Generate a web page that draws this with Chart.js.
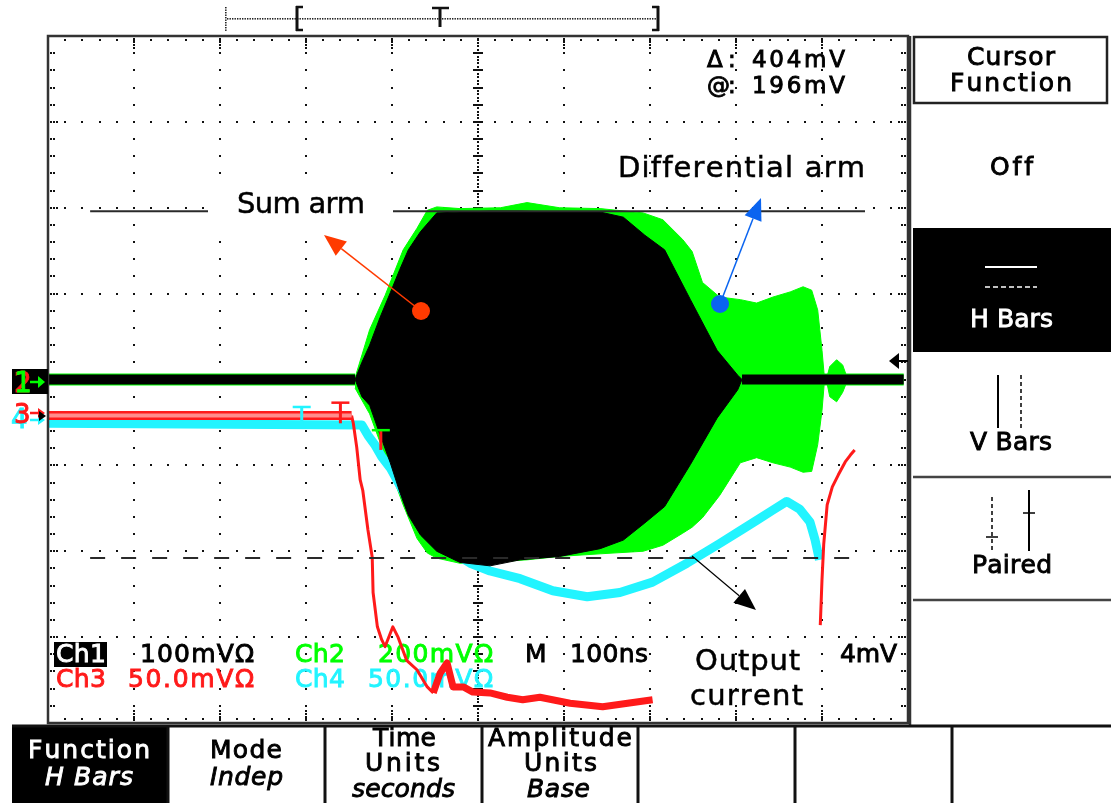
<!DOCTYPE html>
<html lang="en">
<head>
  <meta charset="UTF-8" />
  <title>Scope capture - sum and differential arm</title>
  <script src="https://cdn.jsdelivr.net/npm/chart.js"></script>
  <style>
    html, body { margin: 0; padding: 0; background: #fff; }
    #wrap { width: 1111px; height: 803px; position: relative; }
  </style>
</head>
<body>
  <div id="wrap"><canvas id="scope"></canvas></div>

  <script>
    // time in ns from the left edge of the screen (100 ns/div), amplitude in screen divisions
    const ch1Scale = 100;             // mV/div, cursors are on Ch1
    const cursorAt = 196;             // mV
    const cursorDelta = 404;          // mV
    const cursorSpan = [49, 950];

    // Ch1 (sum arm), black
    const ch1BaseLeft = [0, 357];
    const ch1BaseRight = [807, 995];
    const blackT  = [357, 365, 374, 386, 398, 409, 419, 433, 452, 479, 514, 549, 595, 642, 669, 694, 717, 747, 778, 802, 807];
    const blackHi = [0, 0.20, 0.40, 0.72, 1.01, 1.28, 1.51, 1.72, 1.94, 1.95, 1.96, 1.96, 1.95, 1.95, 1.89, 1.68, 1.51, 0.93, 0.34, 0.05, 0];
    const blackLo = [0, -0.20, -0.30, -0.64, -0.97, -1.31, -1.58, -1.81, -2.00, -2.13, -2.17, -2.10, -2.06, -1.97, -1.87, -1.67, -1.48, -0.99, -0.45, -0.12, 0];

    // Ch2 (differential arm), green
    const greenT  = [357, 374, 392, 413, 429, 441, 452, 479, 526, 557, 595, 642, 692, 715, 738, 749, 761, 781, 805, 824, 843, 863, 878, 888, 895, 900, 903];
    const greenHi = [0.02, 0.58, 0.98, 1.51, 1.76, 1.97, 2.01, 1.99, 2.00, 2.06, 2.00, 1.99, 1.94, 1.86, 1.63, 1.49, 1.13, 0.96, 0.93, 0.89, 0.96, 1.02, 1.08, 1.04, 0.81, 0.34, 0];
    const greenLo = [-0.10, -0.40, -0.89, -1.46, -1.85, -2.02, -2.08, -2.14, -2.12, -2.10, -2.06, -2.03, -2.00, -1.93, -1.79, -1.72, -1.61, -1.35, -0.97, -0.91, -0.97, -1.02, -1.08, -1.07, -0.76, -0.36, 0];
    const bumpT  = [905, 909, 917, 924, 930];
    const bumpHi = [0, 0.15, 0.23, 0.17, 0];
    const bumpLo = [0, -0.20, -0.26, -0.15, 0];

    // Ch3, red
    const redBaseT = [0, 353];
    const redBaseV = [-0.42, -0.42];
    const redDropT = [353, 355, 359, 363, 366, 372, 377, 378, 383, 388, 392, 401, 407, 417, 429, 441, 448];
    const redDropV = [-0.42, -0.51, -0.79, -1.17, -1.29, -1.75, -2.07, -2.48, -2.88, -3.03, -3.11, -2.88, -3.00, -3.27, -3.38, -3.58, -3.65];
    const redTailT = [448, 456, 464, 471, 483, 494, 514, 534, 552, 572, 607, 645, 703];
    const redTailV = [-3.65, -3.42, -3.30, -3.58, -3.58, -3.64, -3.65, -3.70, -3.73, -3.70, -3.77, -3.81, -3.73];
    const red2T = [898, 900, 902, 906, 912, 919, 927, 933, 938];
    const red2V = [-2.86, -2.33, -1.92, -1.46, -1.25, -1.11, -0.96, -0.88, -0.82];

    // Ch4 (output current), cyan
    const cyanT = [0, 365, 372, 380, 388, 398, 421, 444, 467, 491, 514, 549, 587, 627, 665, 703, 743, 781, 805, 824, 843, 859, 874, 886, 892, 897];
    const cyanV = [-0.51, -0.53, -0.65, -0.76, -0.90, -1.03, -1.45, -1.75, -1.99, -2.14, -2.23, -2.32, -2.46, -2.53, -2.48, -2.36, -2.14, -1.91, -1.76, -1.64, -1.52, -1.42, -1.51, -1.66, -1.87, -2.10];

    // trigger markers: [t, top, bottom]
    const trigCyan = [295, -0.32, -0.53];
    const trigRed = [340, -0.27, -0.51];
    const trigGreen = [387, -0.59, -0.82];

    const F = '"DejaVu Sans", sans-serif';
    const GREEN = '#00ff00', CYAN = '#22f4ff', RED = '#ff1a1a';

    const pts = (ts, vs) => ts.map((t, i) => ({ x: t, y: vs[i] }));
    const flat = (ts, v) => ts.map(t => ({ x: t, y: v }));

    function line(data, color, width, order, extra) {
      return Object.assign({
        data, borderColor: color, backgroundColor: color, borderWidth: width,
        pointRadius: 0, fill: false, tension: 0, order,
        borderCapStyle: 'butt', borderJoinStyle: 'round'
      }, extra || {});
    }

    const hiDiv = cursorAt / ch1Scale;
    const loDiv = (cursorAt - cursorDelta) / ch1Scale;

    const datasets = [
      line(flat(ch1BaseLeft, 0), GREEN, 12, 20),
      line(flat(ch1BaseRight, 0), GREEN, 12, 20),
      line(pts(greenT, greenHi), GREEN, 1, 19),
      line(pts(greenT, greenLo), GREEN, 1, 19, { fill: '-1' }),
      line(pts(bumpT, bumpHi), GREEN, 1, 19),
      line(pts(bumpT, bumpLo), GREEN, 1, 19, { fill: '-1' }),
      line(pts(cyanT, cyanV), CYAN, 9, 15),
      line(pts(redBaseT, redBaseV), RED, 9, 12),
      line(pts(redBaseT, redBaseV), '#ff8c8c', 4, 11),
      line(pts(redDropT, redDropV), RED, 3, 12),
      line(pts(redTailT, redTailV), RED, 7, 12),
      line(pts(red2T, red2V), RED, 3, 12),
      line(flat(ch1BaseLeft, 0), '#000', 10, 8),
      line(flat(ch1BaseRight, 0), '#000', 10, 8),
      line(pts(blackT, blackHi), '#000', 1, 7),
      line(pts(blackT, blackLo), '#000', 1, 7, { fill: '-1' }),
      line(flat(cursorSpan, hiDiv), '#2a2a2a', 2, 1),
      line(flat(cursorSpan, loDiv), '#2a2a2a', 2, 1, { borderDash: [15, 16] })
    ];

    // text spread over [x0, x1]; heavy adds a thin outline to thicken the strokes
    function fit(ctx, s, x0, x1, yb, size, color, style, heavy) {
      ctx.font = (style || '') + ' ' + size + 'px ' + F;
      ctx.fillStyle = color;
      ctx.strokeStyle = color;
      ctx.lineWidth = heavy === undefined ? 0.9 : heavy;
      ctx.textAlign = 'left';
      ctx.textBaseline = 'alphabetic';
      const chars = [...s];
      const ws = chars.map(c => ctx.measureText(c).width);
      const tot = ws.reduce((a, b) => a + b, 0);
      const gap = chars.length > 1 ? (x1 - x0 - tot) / (chars.length - 1) : 0;
      let x = x0;
      chars.forEach((c, i) => {
        ctx.fillText(c, x, yb);
        if (ctx.lineWidth > 0.05) ctx.strokeText(c, x, yb);
        x += ws[i] + gap;
      });
    }

    function seg(ctx, x0, y0, x1, y1, color, w, dash) {
      ctx.save();
      ctx.strokeStyle = color; ctx.lineWidth = w;
      ctx.setLineDash(dash || []);
      ctx.beginPath(); ctx.moveTo(x0, y0); ctx.lineTo(x1, y1); ctx.stroke();
      ctx.restore();
    }

    function arrow(ctx, x0, y0, x1, y1, color, w, len, half) {
      const a = Math.atan2(y1 - y0, x1 - x0);
      const bx = x1 - len * Math.cos(a), by = y1 - len * Math.sin(a);
      seg(ctx, x0, y0, bx, by, color, w);
      ctx.fillStyle = color;
      ctx.beginPath();
      ctx.moveTo(x1, y1);
      ctx.lineTo(bx + half * Math.sin(a), by - half * Math.cos(a));
      ctx.lineTo(bx - half * Math.sin(a), by + half * Math.cos(a));
      ctx.closePath(); ctx.fill();
    }

    const scopeDecor = {
      id: 'scopeDecor',
      beforeDraw(chart) {
        const ctx = chart.ctx;
        ctx.save();
        ctx.fillStyle = '#fff';
        ctx.fillRect(0, 0, chart.width, chart.height);
        ctx.restore();
      },
      beforeDatasetsDraw(chart) {
        const ctx = chart.ctx, sx = chart.scales.x, sy = chart.scales.y, a = chart.chartArea;
        const X = t => sx.getPixelForValue(t), Y = v => sy.getPixelForValue(v);
        const dot = (x, y) => ctx.fillRect(Math.round(x) - 1, Math.round(y) - 1, 2, 2);
        ctx.save();
        ctx.fillStyle = '#111';
        // graticule
        for (let i = 1; i < 10; i++) {
          const x = X(i * 100);
          if (i === 5) {
            for (let k = 0; k <= 200; k++) dot(x, Y(-4 + k * 0.04));
            for (let k = 0; k <= 40; k++) ctx.fillRect(x - 5, Math.round(Y(-4 + k * 0.2)) - 1, 10, 2);
          } else {
            for (let k = 0; k <= 40; k++) dot(x, Y(-4 + k * 0.2));
            for (let k = 0; k < 4; k++) { dot(x, a.top + 3 + k * 3); dot(x, a.bottom - 3 - k * 3); }
          }
        }
        for (let j = -3; j <= 3; j++) {
          const y = Y(j);
          if (j === 0) {
            for (let k = 0; k <= 250; k++) dot(X(k * 4), y);
            for (let k = 0; k <= 50; k++) ctx.fillRect(Math.round(X(k * 20)) - 1, y - 5, 2, 10);
          } else {
            for (let k = 0; k <= 50; k++) dot(X(k * 20), y);
            for (let k = 0; k < 3; k++) { dot(a.left + 3 + k * 3, y); dot(a.right - 3 - k * 3, y); }
          }
        }
        // edge ticks
        for (let k = 0; k <= 50; k++) { dot(X(k * 20), a.top + 4); dot(X(k * 20), a.bottom - 4); }
        for (let k = 0; k <= 40; k++) {
          const y = Y(-4 + k * 0.2);
          dot(a.left + 3, y); dot(a.left + 6, y); dot(a.right - 3, y); dot(a.right - 6, y);
        }
        ctx.restore();

        // channel readouts (drawn under the traces)
        ctx.save();
        ctx.fillStyle = '#000';
        ctx.fillRect(54, 642, 53, 25);
        fit(ctx, 'Ch1', 56, 106, 662, 25, '#fff');
        fit(ctx, '100mV\u03a9', 140, 254, 662, 25, '#000');
        fit(ctx, 'Ch2', 295, 345, 662, 25, GREEN);
        fit(ctx, '200mV\u03a9', 378, 493, 662, 25, GREEN);
        fit(ctx, 'M', 525, 545, 662, 25, '#000');
        fit(ctx, '100ns', 570, 648, 662, 25, '#000');
        fit(ctx, '4mV', 840, 897, 662, 25, '#000');
        fit(ctx, 'Ch3', 56, 106, 687, 25, RED);
        fit(ctx, '50.0mV\u03a9', 128, 254, 687, 25, RED);
        fit(ctx, 'Ch4', 295, 345, 687, 25, CYAN);
        fit(ctx, '50.0mV\u03a9', 368, 493, 687, 25, CYAN);
        ctx.restore();
      },
      afterDatasetsDraw(chart) {
        const ctx = chart.ctx, sx = chart.scales.x, sy = chart.scales.y, a = chart.chartArea;
        const X = t => sx.getPixelForValue(t), Y = v => sy.getPixelForValue(v);
        ctx.save();
        // frame
        ctx.strokeStyle = '#333'; ctx.lineWidth = 2.5;
        ctx.strokeRect(a.left, a.top, a.right - a.left, a.bottom - a.top);

        // trigger markers
        [[trigCyan, CYAN, CYAN], [trigRed, RED, RED], [trigGreen, GREEN, RED]].forEach(([m, c1, c2]) => {
          const x = X(m[0]), y0 = Y(m[1]), y1 = Y(m[2]);
          seg(ctx, x, y0, x, y1, c2, 3);
          seg(ctx, x - 9, y0, x + 9, y0, c1, 2.5);
        });

        // cursor readout
        fit(ctx, '\u0394', 707, 728, 67, 23, '#000');
        fit(ctx, ':', 728, 734, 67, 23, '#000');
        fit(ctx, cursorDelta + 'mV', 752, 845, 67, 23, '#000');
        fit(ctx, '@', 707, 728, 93, 23, '#000');
        fit(ctx, ':', 728, 734, 93, 23, '#000');
        fit(ctx, cursorAt + 'mV', 752, 845, 93, 23, '#000');

        // annotations
        ctx.fillStyle = '#fff';
        ctx.fillRect(208, 176, 185, 50);
        fit(ctx, 'Sum arm', 237, 365, 213, 29, '#000', '', 0.5);
        fit(ctx, 'Differential arm', 618, 865, 177, 29, '#000', '', 0.5);
        fit(ctx, 'Output', 695, 800, 670, 29, '#000', '', 0.5);
        fit(ctx, 'current', 690, 803, 705, 29, '#000', '', 0.5);

        arrow(ctx, 421, 311, 324, 235, '#ff3a00', 1.5, 22, 9);
        ctx.fillStyle = '#ff3a00';
        ctx.beginPath(); ctx.arc(421, 311, 9, 0, Math.PI * 2); ctx.fill();
        arrow(ctx, 720, 304, 761, 198, '#0a64f0', 1.5, 22, 9);
        ctx.fillStyle = '#0a64f0';
        ctx.beginPath(); ctx.arc(720, 304, 9, 0, Math.PI * 2); ctx.fill();
        arrow(ctx, 692, 556, 756, 610, '#000', 1.2, 22, 9);
        ctx.restore();
      },
      afterDraw(chart) {
        const ctx = chart.ctx;
        ctx.save();
        // record view bar at top
        ctx.fillStyle = '#222';
        for (let x = 227; x <= 655; x += 2.5) ctx.fillRect(x, 18, 1.4, 1.6);
        for (let y = 7; y <= 30; y += 2.5) ctx.fillRect(225, y, 1.6, 1.4);
        seg(ctx, 297, 6, 297, 31, '#111', 3);
        seg(ctx, 296, 7, 303, 7, '#111', 2.5);
        seg(ctx, 296, 30, 303, 30, '#111', 2.5);
        seg(ctx, 432, 8, 449, 8, '#111', 2.5);
        seg(ctx, 440, 8, 440, 27, '#111', 3);
        seg(ctx, 658, 6, 658, 31, '#111', 3);
        seg(ctx, 652, 7, 659, 7, '#111', 2.5);
        seg(ctx, 652, 30, 659, 30, '#111', 2.5);

        // channel ground markers
        ctx.fillStyle = '#000';
        ctx.fillRect(12, 369, 36, 25);
        fit(ctx, '2', 14, 28, 392, 28, RED);
        fit(ctx, '1', 14, 28, 392, 28, GREEN);
        arrow(ctx, 30, 382, 45, 382, GREEN, 2.5, 7, 6);
        fit(ctx, '4', 11, 25, 428, 26, CYAN);
        fit(ctx, '3', 14, 28, 423, 26, RED);
        arrow(ctx, 30, 420, 45, 420, CYAN, 2.5, 7, 5);
        arrow(ctx, 30, 413, 45, 413, RED, 2.5, 7, 5);
        arrow(ctx, 38, 416, 46, 416, '#000', 1, 7, 5);
        // trigger level arrow at right
        arrow(ctx, 908, 361, 889, 361, '#000', 2, 10, 8);

        // right side menu
        ctx.strokeStyle = '#222'; ctx.lineWidth = 2.5;
        ctx.strokeRect(914, 37, 193, 66);
        fit(ctx, 'Cursor', 967, 1055, 65, 25, '#000');
        fit(ctx, 'Function', 950, 1072, 91, 25, '#000');
        fit(ctx, 'Off', 990, 1033, 175, 25, '#000');
        ctx.fillStyle = '#000';
        ctx.fillRect(913, 228, 198, 124);
        seg(ctx, 985, 267, 1037, 267, '#fff', 2);
        seg(ctx, 985, 287, 1037, 287, '#fff', 1.5, [5, 3]);
        fit(ctx, 'H Bars', 970, 1053, 327, 25, '#fff');
        seg(ctx, 998, 375, 998, 428, '#000', 2);
        seg(ctx, 1021, 375, 1021, 428, '#000', 1.5, [4, 3]);
        fit(ctx, 'V Bars', 970, 1052, 450, 25, '#000');
        seg(ctx, 913, 477, 1111, 477, '#444', 2.5);
        seg(ctx, 992, 497, 992, 551, '#000', 1.5, [4, 3]);
        seg(ctx, 986, 537, 998, 537, '#000', 1.5);
        seg(ctx, 1029, 490, 1029, 551, '#000', 2);
        seg(ctx, 1023, 513, 1035, 513, '#000', 1.5);
        fit(ctx, 'Paired', 972, 1052, 573, 25, '#000');
        seg(ctx, 913, 600, 1111, 600, '#444', 2.5);
        seg(ctx, 910, 36, 910, 727, '#333', 2.5);

        // bottom menu
        ctx.fillStyle = '#000';
        ctx.fillRect(12, 725, 156, 78);
        seg(ctx, 12, 726, 1111, 726, '#111', 3);
        [168, 325, 482, 638, 795, 952].forEach(x => seg(ctx, x, 725, x, 803, '#111', 3));
        fit(ctx, 'Function', 28, 150, 758, 25, '#fff');
        fit(ctx, 'H Bars', 45, 133, 785, 25, '#fff', 'italic');
        fit(ctx, 'Mode', 210, 282, 758, 25, '#000');
        fit(ctx, 'Indep', 210, 283, 785, 25, '#000', 'italic');
        fit(ctx, 'Time', 373, 436, 746, 25, '#000');
        fit(ctx, 'Units', 365, 440, 771, 25, '#000');
        fit(ctx, 'seconds', 352, 455, 797, 25, '#000', 'italic');
        fit(ctx, 'Amplitude', 488, 632, 746, 25, '#000');
        fit(ctx, 'Units', 524, 597, 771, 25, '#000');
        fit(ctx, 'Base', 527, 590, 797, 25, '#000', 'italic');
        ctx.restore();
      }
    };

    document.addEventListener('DOMContentLoaded', () => {
      new Chart(document.getElementById('scope'), {
        type: 'line',
        data: { datasets },
        options: {
          animation: false,
          responsive: true,
          maintainAspectRatio: false,
          devicePixelRatio: 1,
          layout: { padding: { left: 48, top: 36, right: 203, bottom: 80 } },
          scales: {
            x: { type: 'linear', min: 0, max: 1000, display: false },
            y: { type: 'linear', min: -4, max: 4, display: false }
          },
          plugins: {
            legend: { display: false },
            tooltip: { enabled: false },
            filler: { propagate: false }
          }
        },
        plugins: [scopeDecor]
      });
    });
  </script>
</body>
</html>
